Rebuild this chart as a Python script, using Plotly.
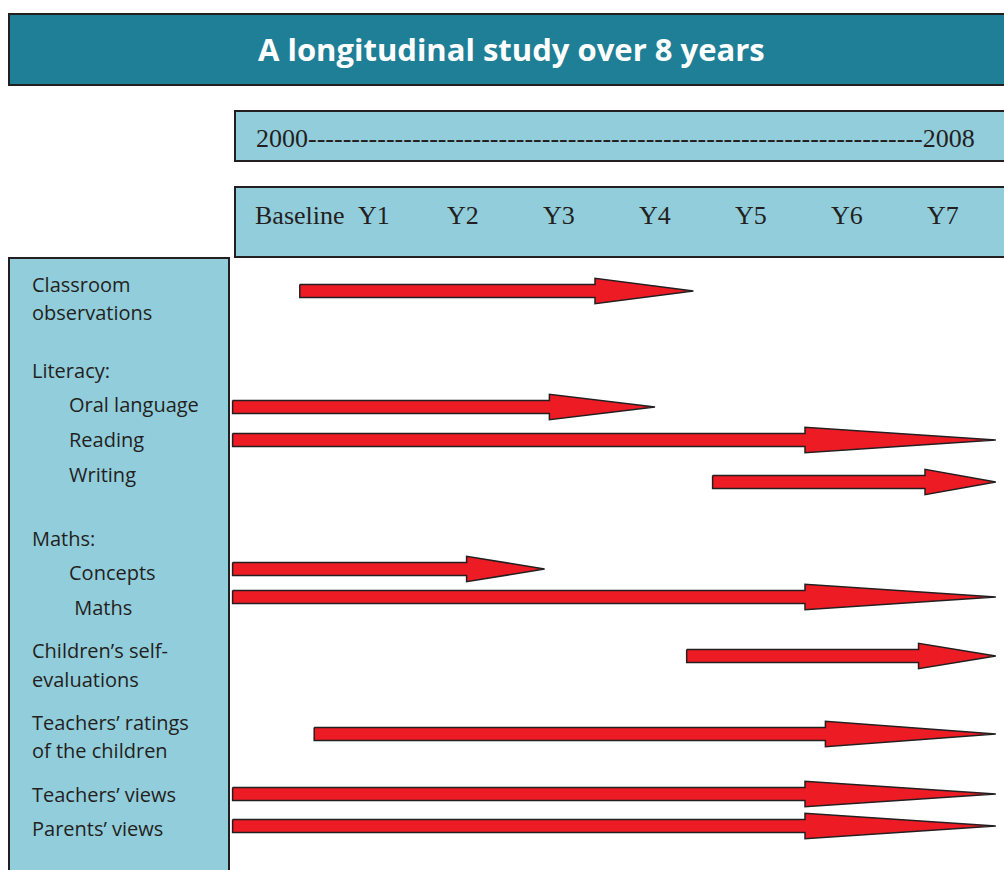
import plotly.graph_objects as go

# ---------------- data ----------------
title_text = "A longitudinal study over 8 years"
timeline_text = "2000" + "-" * 71 + "2008"

header_labels = ["Baseline", "Y1", "Y2", "Y3", "Y4", "Y5", "Y6", "Y7"]
header_pos = [0.3, 1.07, 2, 3, 4, 5, 6, 7]          # study-year units

# left-panel text lines, indent level and baseline row (page px)
label_lines = ["Classroom", "observations", "Literacy:", "Oral language", "Reading",
               "Writing", "Maths:", "Concepts", " Maths", "Children\u2019s self-",
               "evaluations", "Teachers\u2019 ratings", "of the children",
               "Teachers\u2019 views", "Parents\u2019 views"]
label_indent = [0, 0, 0, 1, 1, 1, 0, 1, 1, 0, 0, 0, 0, 0, 0]
label_row = [292, 320, 378, 412, 447, 482, 546, 580, 615, 658, 687, 730, 758, 802, 836]

# measurement periods (study-year units)
arrow_names = ["Classroom observations", "Oral language", "Reading", "Writing",
               "Concepts", "Maths", "Children's self-evaluations",
               "Teachers' ratings", "Teachers' views", "Parents' views"]
arrow_start = [0.30, -0.40, -0.40, 4.60, -0.40, -0.40, 4.33, 0.45, -0.40, -0.40]
arrow_end = [4.40, 4.00, 7.55, 7.55, 2.85, 7.55, 7.55, 7.55, 7.55, 7.55]
arrow_row = [291, 407, 440, 482, 569, 597, 656, 734, 794, 826]

# ---------------- style ----------------
W, H = 1004, 870
PX0, PXU = 271, 96          # pixel of year 0, pixels per year
RED = "#ED1C24"
EDGE = "#231F20"
LIGHT = "#92CDDC"
TEAL = "#1F7F96"
SHAFT = 6.5
HEAD = 12.7

fig = go.Figure()

def px(x):
    return x / W

def py(y):
    return 1 - y / H

# panels
panels = [
    (9, 14, 1012, 85, TEAL),
    (235, 111, 1012, 161, LIGHT),
    (235, 187, 1012, 257, LIGHT),
    (9, 258, 229, 890, LIGHT),
]
for x0, y0, x1, y1, col in panels:
    fig.add_shape(type="rect", xref="paper", yref="paper",
                  x0=px(x0), x1=px(x1), y0=py(y0), y1=py(y1),
                  fillcolor=col, line=dict(color=EDGE, width=2), layer="below")

# arrows
for name, s, e, r in zip(arrow_names, arrow_start, arrow_end, arrow_row):
    h = 0.25 * (e - s)
    xs = [s, e - h, e - h, e, e - h, e - h, s, s]
    ys = [r - SHAFT, r - SHAFT, r - HEAD, r, r + HEAD, r + SHAFT, r + SHAFT, r - SHAFT]
    fig.add_trace(go.Scatter(x=xs, y=ys, mode="lines", fill="toself",
                             fillcolor=RED, line=dict(color=EDGE, width=1.5),
                             name=name, hoverinfo="name", showlegend=False,
                             cliponaxis=False))

# title
fig.add_annotation(text="<b>" + title_text + "</b>", xref="paper", yref="paper",
                   x=px(511), y=py(49), xanchor="center", yanchor="middle",
                   showarrow=False, font=dict(family="Open Sans", size=31, color="white"))

# timeline
fig.add_annotation(text=timeline_text, xref="paper", yref="paper",
                   x=px(254), y=py(138), xanchor="left", yanchor="middle",
                   showarrow=False, font=dict(family="Liberation Serif", size=26, color=EDGE))

# header labels
for lab, pos in zip(header_labels, header_pos):
    fig.add_annotation(text=lab, x=pos, y=215, xref="x", yref="y",
                       xanchor="center", yanchor="middle", showarrow=False,
                       font=dict(family="Liberation Serif", size=26, color=EDGE))

# left labels
for lab, ind, row in zip(label_lines, label_indent, label_row):
    fig.add_annotation(text=lab.replace(" ", "\u00a0") if lab.startswith(" ") else lab,
                       xref="paper", yref="y",
                       x=px(30 + 37 * ind), y=row - 8, xanchor="left", yanchor="middle",
                       showarrow=False,
                       font=dict(family="Open Sans", size=20, color=EDGE))

fig.update_layout(
    width=W, height=H,
    margin=dict(l=0, r=0, t=0, b=0),
    paper_bgcolor="white", plot_bgcolor="white",
    showlegend=False,
    xaxis=dict(range=[-PX0 / PXU, (W - PX0) / PXU], visible=False, fixedrange=True),
    yaxis=dict(range=[H, 0], visible=False, fixedrange=True),
)

fig.write_html("out.html",
               config={"displayModeBar": False},
               post_script="document.body.style.margin='0';"
                           "document.documentElement.style.overflow='hidden';")
